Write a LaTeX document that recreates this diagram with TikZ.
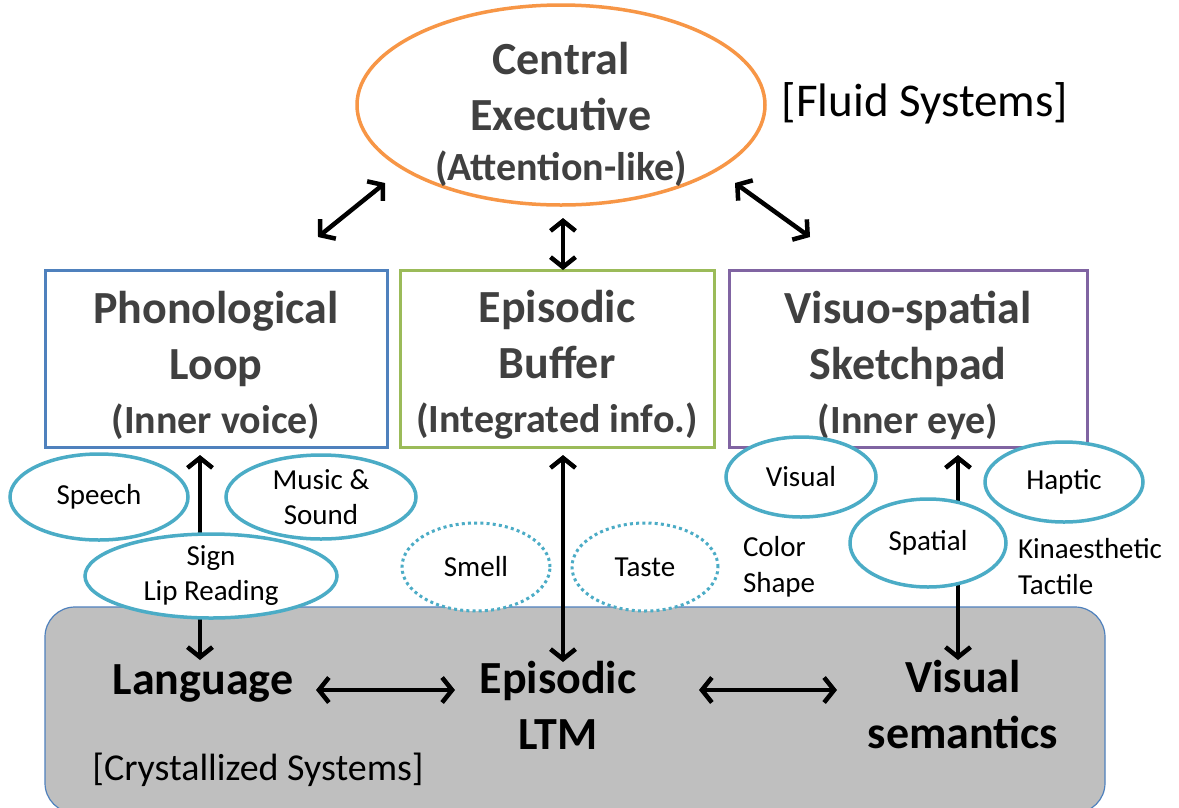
\documentclass[tikz,border=0pt]{standalone}
\usepackage{fontspec}
\setmainfont{Carlito}
\usetikzlibrary{arrows.meta,shapes.geometric}
\definecolor{ceorange}{HTML}{F79646}
\definecolor{plblue}{HTML}{4F81BD}
\definecolor{ebgreen}{HTML}{9BBB59}
\definecolor{vspurple}{HTML}{8064A2}
\definecolor{modcyan}{HTML}{4BACC6}
\definecolor{headgray}{HTML}{404040}
\definecolor{ltmgray}{HTML}{BFBFBF}
\tikzset{
  every node/.style={inner sep=0pt, outer sep=0pt},
  bighead/.style={font=\bfseries\fontsize{46}{56}\selectfont, text=headgray, align=center},
  wmbox/.style={draw=#1, line width=3pt, fill=white, minimum height=177pt},
  modell/.style={ellipse, draw=modcyan, line width=3.5pt, fill=white, inner sep=-6pt,
     font=\fontsize{29}{35}\selectfont, align=center},
  dotell/.style={modell, line width=3pt, dash pattern=on 3pt off 3.2pt},
  small/.style={font=\fontsize{29}{36}\selectfont, align=left, anchor=west},
  ltm/.style={font=\bfseries\fontsize{46}{56}\selectfont, align=center},
  dbl/.style={line width=4.5pt, {Straight Barb[length=10pt,width=25pt]}-{Straight Barb[length=10pt,width=25pt]}},
}
\begin{document}
\begin{tikzpicture}[x=1pt,y=-1pt]
\useasboundingbox (0,0) rectangle (1179,807);
\fill[white] (0,0) rectangle (1179,807);

% crystallized systems background
\node[draw=plblue, line width=1.2pt, fill=ltmgray, rounded corners=30pt,
      minimum width=1060pt, minimum height=206pt] (LTMBG) at (575,710) {};

% central executive
\node[ellipse, draw=ceorange, line width=3.5pt, minimum width=408pt, minimum height=200pt,
      inner sep=0pt] (CE) at (561,105) {};
\node[bighead] (CEt) at (561,114)
  {Central\\Executive\\[-6pt]{\fontsize{40}{50}\selectfont (Attention-like)}};
\node[font=\fontsize{47}{56}\selectfont] (FS) at (925,103) {[Fluid Systems]};

% working memory boxes
\node[wmbox=plblue, minimum width=342pt] (PL) at (216,358.5) {};
\node[wmbox=ebgreen, minimum width=314pt] (EB) at (557,358.5) {};
\node[wmbox=vspurple, minimum width=358pt] (VS) at (908,358.5) {};
\node[bighead] (PLt) at (PL.center |- 0,365)
  {Phonological\\Loop\\[-2pt]{\fontsize{40}{54}\selectfont (Inner voice)}};
\node[bighead] (EBt) at (EB.center |- 0,365)
  {Episodic\\Buffer\\[-2pt]{\fontsize{40}{54}\selectfont (Integrated info.)}};
\node[bighead] (VSt) at (VS.center |- 0,365)
  {Visuo-spatial\\Sketchpad\\[-2pt]{\fontsize{40}{54}\selectfont (Inner eye)}};

% long-term stores
\node[ltm] (Lang) at (203,683) {Language};
\node[ltm] (ELTM) at (558,705) {Episodic\\LTM};
\node[ltm] (VSem) at (963,705) {Visual\\semantics};
\node[font=\fontsize{38}{46}\selectfont] (CS) at (258,770) {[Crystallized Systems]};

% top arrows
\coordinate (l1) at (385,183);
\coordinate (l2) at (318,237);
\coordinate (r1) at (735,183);
\coordinate (r2) at (810,237);
\coordinate (m1) at (563,218);
\coordinate (m2) at (563,270);
\draw[dbl] (l1) -- (l2);
\draw[dbl] (r1) -- (r2);
\draw[dbl] (m1) -- (m2);

% vertical arrows to LTM
\coordinate (pa) at (200,455);
\coordinate (pb) at (200,660);
\coordinate (ea) at (563,455);
\coordinate (eb) at (563,662);
\coordinate (va) at (958,455);
\coordinate (vb) at (958,660);
\draw[dbl] (pa) -- (pb);
\draw[dbl] (ea) -- (eb);
\draw[dbl] (va) -- (vb);

% horizontal arrows
\coordinate (h1) at (316,690);
\coordinate (h2) at (455,690);
\coordinate (h3) at (699,690);
\coordinate (h4) at (837,690);
\draw[dbl] (h1) -- (h2);
\draw[dbl] (h3) -- (h4);

% modality ellipses
\node[modell, minimum width=178pt, minimum height=86pt] (Speech) at (99,497) {Speech};
\node[modell, minimum width=190pt, minimum height=84pt] (Music) at (321,497) {Music \&\\Sound};
\node[modell, minimum width=252pt, minimum height=84pt] (Sign) at (211,576) {Sign\\Lip Reading};
\node[dotell, minimum width=148pt, minimum height=88pt] (Smell) at (476,567) {Smell};
\node[dotell, minimum width=146pt, minimum height=88pt] (Taste) at (645,567) {Taste};
\node[modell, minimum width=150pt, minimum height=80pt] (Visual) at (801,477) {Visual};
\node[modell, minimum width=158pt, minimum height=80pt] (Haptic) at (1064,482) {Haptic};
\node[modell, minimum width=156pt, minimum height=88pt] (Spatial) at (928,543) {Spatial};

\node[small] (CSh) at (743,567) {Color\\Shape};
\node[small] (KT) at (1018,567) {Kinaesthetic\\Tactile};
\end{tikzpicture}
\end{document}
